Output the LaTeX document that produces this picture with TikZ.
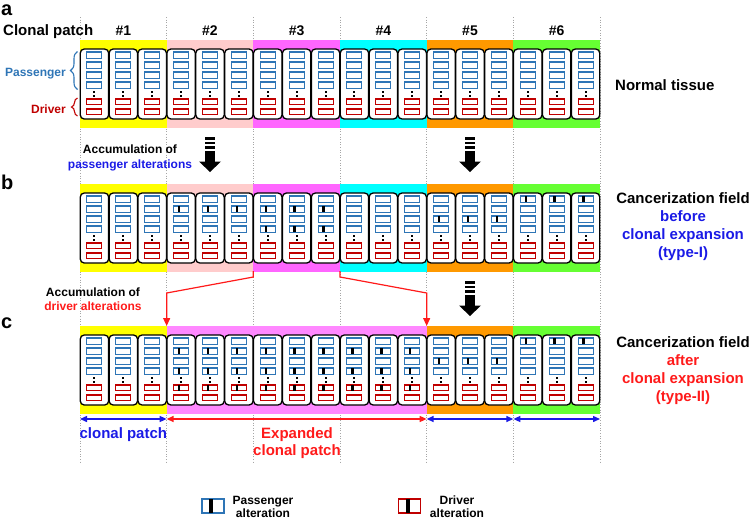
\documentclass[tikz,border=0pt]{standalone}
\usepackage{fontspec}
\setmainfont{Liberation Sans}
\usetikzlibrary{arrows.meta,calc,decorations.pathreplacing}

\definecolor{patchyellow}{HTML}{FFFF00}
\definecolor{patchpink}{HTML}{FFCCCC}
\definecolor{patchmagenta}{HTML}{FF66FF}
\definecolor{patchcyan}{HTML}{00FFFF}
\definecolor{patchorange}{HTML}{FF9900}
\definecolor{patchgreen}{HTML}{66FF33}
\definecolor{expandpink}{HTML}{FF88FF}
\definecolor{passblue}{HTML}{2E75B6}
\definecolor{drvred}{HTML}{C00000}
\definecolor{txtblue}{HTML}{1A1AE6}
\definecolor{txtred}{HTML}{FF1A1A}

\tikzset{
  cellline/.style={draw=black, line width=1.3pt, rounded corners=4pt, fill=white},
  passbox/.style={draw=passblue, line width=1.1pt},
  drvbox/.style={draw=drvred, line width=1.1pt},
  patchdiv/.style={draw=gray!70, dotted, line width=0.6pt},
  redconn/.style={draw=txtred, line width=1.2pt, -{Triangle[length=8pt,width=7pt]}},
  spanarrow/.style={line width=1.4pt, {Triangle[length=7pt,width=6pt]}-{Triangle[length=7pt,width=6pt]}},
  bigtxt/.style={font=\fontsize{15}{18}\selectfont\bfseries, inner sep=0pt},
  hdrtxt/.style={font=\fontsize{14}{17}\selectfont\bfseries, inner sep=0pt},
  smalltxt/.style={font=\fontsize{12}{14}\selectfont\bfseries, inner sep=0pt},
  panellbl/.style={font=\fontsize{20}{24}\selectfont\bfseries, inner sep=0pt},
}

% one cell: #1 index (0..17), #2 row offset
\newcommand{\tissuecell}[2]{%
  \begin{scope}[shift={({80+(#1+0.5)*28.889},#2)}]
    \path[cellline] (-14.2,49) rectangle (14.2,119);
    \foreach \k in {0,...,3}
      \draw[passbox] (-7.5,{52+10*\k}) rectangle ++(15,6.5);
    \fill (-1,90.5) rectangle ++(2,2.2);
    \fill (-1,94.8) rectangle ++(2,2.2);
    \draw[drvbox] (-7.5,99) rectangle ++(15,5.8);
    \draw[drvbox] (-7.5,109) rectangle ++(15,5.8);
  \end{scope}}

% alteration mark: #1 cell index, #2 row offset, #3 box top
\newcommand{\altmark}[3]{%
  \fill ({80+(#1+0.5)*28.889-3.2},{#2+#3}) rectangle ++(2.4,6.2);}

% dashed block arrow: #1 x, #2 top y
\newcommand{\blockarrow}[2]{%
  \foreach \b in {0,1,2}
    \fill ({#1-5},{#2+4.5*\b}) rectangle ++(10,2.6);
  \fill ({#1-5},{#2+13.5}) rectangle ({#1+5},{#2+25});
  \fill ({#1-11},{#2+24.5}) -- ({#1+11},{#2+24.5}) -- (#1,{#2+35}) -- cycle;}

\begin{document}
\begin{tikzpicture}[x=1pt, y=-1pt]
  \useasboundingbox (0,0) rectangle (750,520);

  % patch dividers
  \foreach \p in {0,...,6}
    \draw[patchdiv] ({80+\p*86.667},17) -- ({80+\p*86.667},462);

  % colour strips, rows a and b
  \foreach \r in {0,144}
    \foreach \c [count=\p from 0] in {patchyellow,patchpink,patchmagenta,patchcyan,patchorange,patchgreen}
      \fill[\c] ({80+\p*86.667},{40+\r}) rectangle ({80+(\p+1)*86.667},{128+\r});

  % colour strips, row c
  \fill[patchyellow] (80,326) rectangle (166.667,414);
  \fill[expandpink] (166.667,326) rectangle (426.667,414);
  \fill[patchorange] (426.667,326) rectangle (513.333,414);
  \fill[patchgreen] (513.333,326) rectangle (600,414);

  % cells
  \foreach \r in {0,144,286}
    \foreach \i in {0,...,17}
      \tissuecell{\i}{\r};

  % row b alterations
  \foreach \i in {3,4,5} \altmark{\i}{144}{62};
  \foreach \i in {6,7,8} {\altmark{\i}{144}{62} \altmark{\i}{144}{82}}
  \foreach \i in {12,13,14} \altmark{\i}{144}{72};
  \foreach \i in {15,16,17} \altmark{\i}{144}{52};

  % row c alterations
  \foreach \i in {3,...,11} {\altmark{\i}{286}{62} \altmark{\i}{286}{82} \altmark{\i}{286}{99}}
  \foreach \i in {12,13,14} \altmark{\i}{286}{72};
  \foreach \i in {15,16,17} \altmark{\i}{286}{52};

  % panel labels and header
  \node[panellbl, anchor=base west] (lbl-a) at (1,15) {a};
  \node[panellbl, anchor=base west] (lbl-b) at (1,189) {b};
  \node[panellbl, anchor=base west] (lbl-c) at (1,328) {c};
  \node[bigtxt, anchor=base west] (hdr) at (3,35) {Clonal patch};
  \foreach \p in {1,...,6}
    \node[hdrtxt, anchor=base] (hdr\p) at ({80+(\p-0.5)*86.667},35) {\#\p};

  % braces
  \draw[passblue, line width=1.1pt, decorate, decoration={brace, amplitude=7pt}] (77.5,89.5) -- (77.5,51.5);
  \draw[drvred, line width=1.1pt, decorate, decoration={brace, amplitude=6pt}] (77.5,116) -- (77.5,98);
  \node[smalltxt, anchor=base east, text=passblue] (lbl-pass) at (66,76) {Passenger};
  \node[smalltxt, anchor=base east, text=drvred] (lbl-drv) at (66,113) {Driver};

  % right side texts
  \node[bigtxt, anchor=base west] (txt-normal) at (615,90) {Normal tissue};
  \node[bigtxt, anchor=base] (txt-b1) at (683,203) {Cancerization field};
  \node[bigtxt, anchor=base, text=txtblue] (txt-b2) at (683,221) {before};
  \node[bigtxt, anchor=base, text=txtblue] (txt-b3) at (683,239) {clonal expansion};
  \node[bigtxt, anchor=base, text=txtblue] (txt-b4) at (683,257) {(type-I)};
  \node[bigtxt, anchor=base] (txt-c1) at (683,347) {Cancerization field};
  \node[bigtxt, anchor=base, text=txtred] (txt-c2) at (683,365) {after};
  \node[bigtxt, anchor=base, text=txtred] (txt-c3) at (683,383) {clonal expansion};
  \node[bigtxt, anchor=base, text=txtred] (txt-c4) at (683,401) {(type-II)};

  % accumulation arrows
  \blockarrow{210}{137}
  \blockarrow{470}{137}
  \blockarrow{470}{281}
  \node[smalltxt, anchor=base] (acc-p1) at (130,153.5) {Accumulation of};
  \node[smalltxt, anchor=base, text=txtblue] (acc-p2) at (130,168) {passenger alterations};
  \node[smalltxt, anchor=base] (acc-d1) at (93,296) {Accumulation of};
  \node[smalltxt, anchor=base, text=txtred] (acc-d2) at (93,310) {driver alterations};

  % clonal expansion connectors
  \coordinate (srcL) at (253.333,271);
  \coordinate (bendL) at (166.667,293);
  \coordinate (tipL) at (166.667,326);
  \coordinate (srcR) at (340,271);
  \coordinate (bendR) at (426.667,293);
  \coordinate (tipR) at (426.667,326);
  \draw[redconn] (srcL) -- ++(0,6) -- (bendL) -- (tipL);
  \draw[redconn] (srcR) -- ++(0,6) -- (bendR) -- (tipR);

  % span arrows
  \foreach \p in {0,...,6}
    \coordinate (sp\p) at ({80+\p*86.667},419);
  \draw[spanarrow, txtblue] (sp0) -- (sp1);
  \draw[spanarrow, txtred] (sp1) -- (sp4);
  \draw[spanarrow, txtblue] (sp4) -- (sp5);
  \draw[spanarrow, txtblue] (sp5) -- (sp6);
  \node[bigtxt, anchor=base, text=txtblue] (span-clonal) at (123.333,438) {clonal patch};
  \node[bigtxt, anchor=base, text=txtred] (span-exp1) at (297,438) {Expanded};
  \node[bigtxt, anchor=base, text=txtred] (span-exp2) at (297,455) {clonal patch};

  % legend
  \draw[passbox, line width=1.4pt] (202,499) rectangle (224,513);
  \fill (209.3,499) rectangle (213.3,513);
  \node[smalltxt, anchor=base] (leg-p1) at (263,504) {Passenger};
  \node[smalltxt, anchor=base] (leg-p2) at (263,517) {alteration};
  \draw[drvbox, line width=1.4pt] (398.5,499) rectangle (420.5,513);
  \fill (406,499) rectangle (410,513);
  \node[smalltxt, anchor=base] (leg-d1) at (457,504) {Driver};
  \node[smalltxt, anchor=base] (leg-d2) at (457,517) {alteration};
\end{tikzpicture}
\end{document}
